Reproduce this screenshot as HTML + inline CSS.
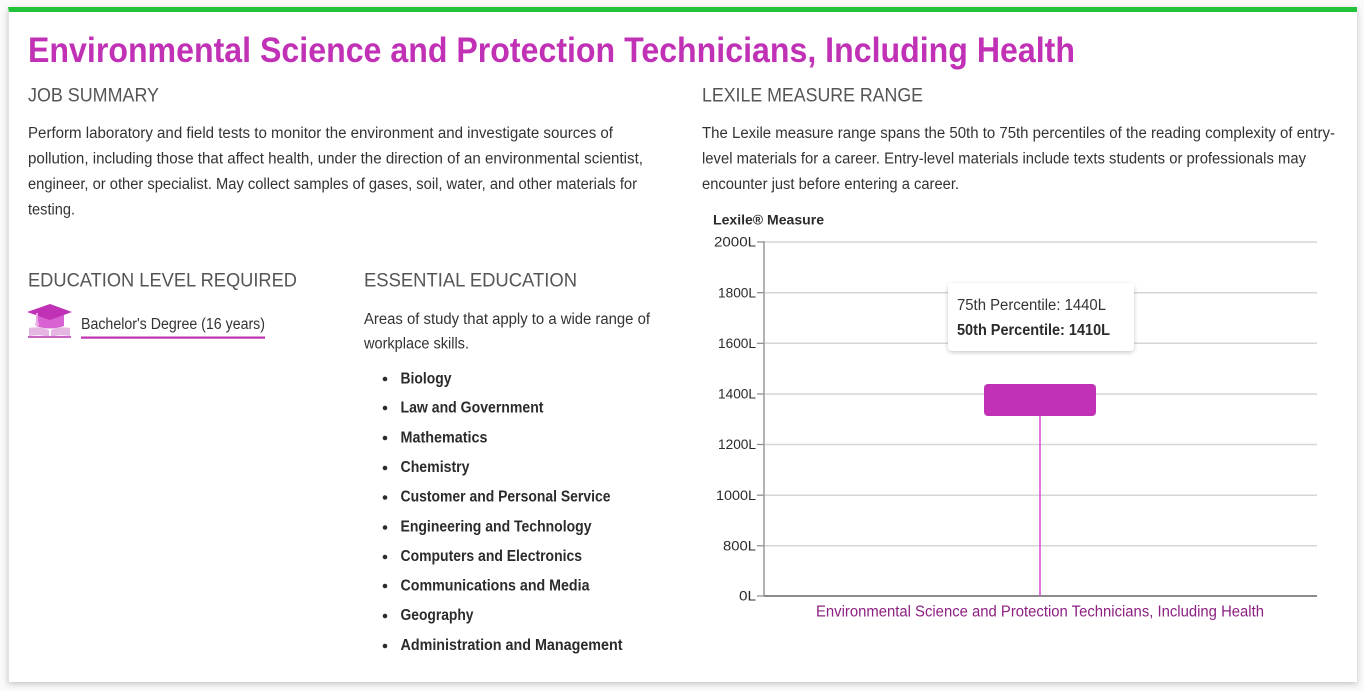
<!DOCTYPE html>
<html><head><meta charset="utf-8"><style>
html,body{margin:0;padding:0;background:#fafafa;width:1364px;height:691px;overflow:hidden;}
.card{position:absolute;left:8px;top:7px;width:1348px;height:670px;background:#fff;border-top:5px solid #22c23a;box-shadow:0 2px 6px rgba(0,0,0,0.22);border-left:1px solid #e2e2e2;}
svg{position:absolute;left:0;top:0;}
text{font-family:"Liberation Sans",sans-serif;}
</style></head><body>
<div class="card"></div>
<svg width="1364" height="691" viewBox="0 0 1364 691" xmlns="http://www.w3.org/2000/svg">
<defs>
<filter id="sh" x="-10%" y="-20%" width="120%" height="150%"><feDropShadow dx="0" dy="1.5" stdDeviation="2" flood-color="#000" flood-opacity="0.22"/></filter>
</defs>
<!-- Title -->
<text x="28" y="62" font-size="35" font-weight="bold" fill="#c031b5" textLength="1047" lengthAdjust="spacingAndGlyphs">Environmental Science and Protection Technicians, Including Health</text>

<g fill="#555" font-size="19.5">
<text x="28" y="101.5" textLength="131" lengthAdjust="spacingAndGlyphs">JOB SUMMARY</text>
<text x="702" y="101.5" textLength="221" lengthAdjust="spacingAndGlyphs">LEXILE MEASURE RANGE</text>
<text x="28" y="286.5" textLength="269" lengthAdjust="spacingAndGlyphs">EDUCATION LEVEL REQUIRED</text>
<text x="364" y="286.5" textLength="213" lengthAdjust="spacingAndGlyphs">ESSENTIAL EDUCATION</text>
</g>
<g fill="#333" font-size="15.5">
<text x="28" y="138" textLength="585" lengthAdjust="spacingAndGlyphs">Perform laboratory and field tests to monitor the environment and investigate sources of</text>
<text x="28" y="163.5" textLength="615" lengthAdjust="spacingAndGlyphs">pollution, including those that affect health, under the direction of an environmental scientist,</text>
<text x="28" y="189" textLength="609" lengthAdjust="spacingAndGlyphs">engineer, or other specialist. May collect samples of gases, soil, water, and other materials for</text>
<text x="28" y="214.5" textLength="47" lengthAdjust="spacingAndGlyphs">testing.</text>

<text x="702" y="138" textLength="633" lengthAdjust="spacingAndGlyphs">The Lexile measure range spans the 50th to 75th percentiles of the reading complexity of entry-</text>
<text x="702" y="163.5" textLength="604" lengthAdjust="spacingAndGlyphs">level materials for a career. Entry-level materials include texts students or professionals may</text>
<text x="702" y="189" textLength="257" lengthAdjust="spacingAndGlyphs">encounter just before entering a career.</text>

<text x="81" y="329" textLength="184" lengthAdjust="spacingAndGlyphs">Bachelor's Degree (16 years)</text>
<text x="364" y="324" textLength="286" lengthAdjust="spacingAndGlyphs">Areas of study that apply to a wide range of</text>
<text x="364" y="348.5" textLength="105" lengthAdjust="spacingAndGlyphs">workplace skills.</text>
</g>
<rect x="81" y="336.5" width="184" height="2.2" fill="#c031b5"/>

<!-- Icon -->
<g>
<path d="M36,314 L64,314 L64,326 Q50,331 36,326 Z" fill="#d862d2"/>
<polygon points="27,312 50,304 72,312 50,320" fill="#c031b5"/>
<line x1="37" y1="313" x2="37" y2="323" stroke="#eab0e4" stroke-width="1.8"/>
<circle cx="37" cy="324" r="2" fill="#eab0e4"/>
<path d="M29,328 Q40,326 49,330 L49,337 Q40,334 29,336 Z" fill="#e6b6e2"/>
<path d="M70,328 Q59,326 51,330 L51,337 Q59,334 70,336 Z" fill="#e6b6e2"/>
<rect x="28" y="336" width="43" height="2" fill="#c865c3"/>
</g>

<!-- List -->
<g fill="#2b2b2b" font-size="15.5" font-weight="bold">
<circle cx="385" cy="379" r="2.3"/>
<text x="400.5" y="383.3" textLength="51" lengthAdjust="spacingAndGlyphs">Biology</text>
<circle cx="385" cy="408" r="2.3"/>
<text x="400.5" y="412.3" textLength="143" lengthAdjust="spacingAndGlyphs">Law and Government</text>
<circle cx="385" cy="438" r="2.3"/>
<text x="400.5" y="442.3" textLength="87" lengthAdjust="spacingAndGlyphs">Mathematics</text>
<circle cx="385" cy="468" r="2.3"/>
<text x="400.5" y="472" textLength="69" lengthAdjust="spacingAndGlyphs">Chemistry</text>
<circle cx="385" cy="497.5" r="2.3"/>
<text x="400.5" y="501.7" textLength="210" lengthAdjust="spacingAndGlyphs">Customer and Personal Service</text>
<circle cx="385" cy="527.5" r="2.3"/>
<text x="400.5" y="531.7" textLength="191" lengthAdjust="spacingAndGlyphs">Engineering and Technology</text>
<circle cx="385" cy="557" r="2.3"/>
<text x="400.5" y="561" textLength="181.5" lengthAdjust="spacingAndGlyphs">Computers and Electronics</text>
<circle cx="385" cy="586" r="2.3"/>
<text x="400.5" y="590.3" textLength="189" lengthAdjust="spacingAndGlyphs">Communications and Media</text>
<circle cx="385" cy="616" r="2.3"/>
<text x="400.5" y="620" textLength="73" lengthAdjust="spacingAndGlyphs">Geography</text>
<circle cx="385" cy="646" r="2.3"/>
<text x="400.5" y="650" textLength="222" lengthAdjust="spacingAndGlyphs">Administration and Management</text>
</g>

<!-- Chart -->
<text x="713" y="224.5" font-size="14" font-weight="bold" fill="#2b2b2b" textLength="111" lengthAdjust="spacingAndGlyphs">Lexile® Measure</text>
<g stroke="#d6d6d6" stroke-width="1.5">
<line x1="764" y1="242" x2="1317" y2="242"/>
<line x1="764" y1="292.7" x2="1317" y2="292.7"/>
<line x1="764" y1="343.3" x2="1317" y2="343.3"/>
<line x1="764" y1="394" x2="1317" y2="394"/>
<line x1="764" y1="444.5" x2="1317" y2="444.5"/>
<line x1="764" y1="495.2" x2="1317" y2="495.2"/>
<line x1="764" y1="545.8" x2="1317" y2="545.8"/>
</g>
<g stroke="#888" stroke-width="1.2">
<line x1="757" y1="242" x2="764" y2="242"/>
<line x1="757" y1="292.7" x2="764" y2="292.7"/>
<line x1="757" y1="343.3" x2="764" y2="343.3"/>
<line x1="757" y1="394" x2="764" y2="394"/>
<line x1="757" y1="444.5" x2="764" y2="444.5"/>
<line x1="757" y1="495.2" x2="764" y2="495.2"/>
<line x1="757" y1="545.8" x2="764" y2="545.8"/>
<line x1="757" y1="596" x2="764" y2="596"/>
</g>
<line x1="764" y1="241" x2="764" y2="596.5" stroke="#999" stroke-width="1.5"/>
<line x1="764" y1="596" x2="1317" y2="596" stroke="#666" stroke-width="1.5"/>
<g fill="#2b2b2b" font-size="13.5" text-anchor="end">
<text x="756" y="246.7" textLength="42" lengthAdjust="spacingAndGlyphs">2000L</text>
<text x="756" y="297.3" textLength="38" lengthAdjust="spacingAndGlyphs">1800L</text>
<text x="756" y="348" textLength="38" lengthAdjust="spacingAndGlyphs">1600L</text>
<text x="756" y="398.7" textLength="38" lengthAdjust="spacingAndGlyphs">1400L</text>
<text x="756" y="449.2" textLength="38" lengthAdjust="spacingAndGlyphs">1200L</text>
<text x="756" y="499.9" textLength="40" lengthAdjust="spacingAndGlyphs">1000L</text>
<text x="756" y="550.5" textLength="33" lengthAdjust="spacingAndGlyphs">800L</text>
<text x="756" y="600.7" textLength="17" lengthAdjust="spacingAndGlyphs">0L</text>
</g>
<line x1="1040" y1="415" x2="1040" y2="596" stroke="#d45ad2" stroke-width="1.6"/>
<rect x="984" y="384" width="112" height="32" rx="4" ry="4" fill="#c031b5"/>
<text x="816" y="616.5" font-size="15.5" fill="#8c1f80" textLength="448" lengthAdjust="spacingAndGlyphs">Environmental Science and Protection Technicians, Including Health</text>

<!-- Tooltip -->
<rect x="948" y="283" width="186" height="68" rx="4" ry="4" fill="#fff" filter="url(#sh)"/>
<text x="957" y="310" font-size="15.5" fill="#333" textLength="149" lengthAdjust="spacingAndGlyphs">75th Percentile: 1440L</text>
<text x="957" y="335" font-size="15.5" font-weight="bold" fill="#2b2b2b" textLength="153" lengthAdjust="spacingAndGlyphs">50th Percentile: 1410L</text>
</svg>
</body></html>
